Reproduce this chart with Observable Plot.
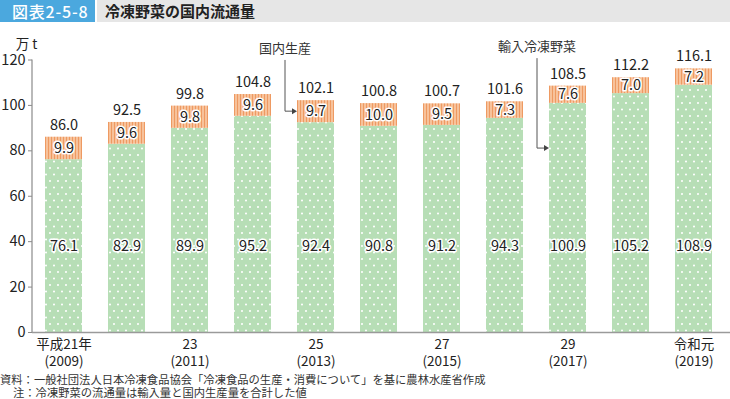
<!DOCTYPE html>
<html><head><meta charset="utf-8">
<script src="https://cdn.jsdelivr.net/npm/d3@7"></script>
<script src="https://cdn.jsdelivr.net/npm/@observablehq/plot@0.6"></script>
<style>
body{margin:0;background:#fff;font-family:"Noto Sans CJK JP","Noto Sans",sans-serif;}
#wrap{width:730px;height:399px;position:relative;overflow:hidden;}
#header{height:22px;display:flex;overflow:hidden}
#hnum{width:95px;height:22px;background:#4ba8de;color:#fff;font-size:16px;line-height:22px;padding-left:12px;box-sizing:border-box;font-weight:500;white-space:nowrap;letter-spacing:0.8px}
#htitle{flex:1;height:22px;margin-left:2px;background:#e6e6e6;font-size:15px;font-weight:bold;line-height:22px;padding-left:8px;color:#222;white-space:nowrap}
#chart svg{display:block}
#caption{font-size:11.3px;line-height:13px;color:#333;white-space:nowrap;padding-top:1px}
</style></head><body>
<svg width="0" height="0" style="position:absolute"><defs>
<pattern id="dots" width="8" height="13" patternUnits="userSpaceOnUse"><rect width="8" height="13" fill="#b7deb6"/><circle cx="2" cy="3" r="1.05" fill="#fff"/><circle cx="6" cy="9.5" r="1.05" fill="#fff"/></pattern>
<pattern id="stripes" width="3" height="4" patternUnits="userSpaceOnUse"><rect width="3" height="4" fill="#f7c29b"/><rect x="0" width="1" height="4" fill="#ee9a62"/></pattern>
</defs></svg>
<div id="wrap">
<div id="header"><div id="hnum">図表2-5-8</div><div id="htitle">冷凍野菜の国内流通量</div></div>
<div id="chart"></div>
<div id="caption"><div>資料：一般社団法人日本冷凍食品協会「冷凍食品の生産・消費について」を基に農林水産省作成</div><div style="padding-left:13px">注：冷凍野菜の流通量は輸入量と国内生産量を合計した値</div></div>
</div>
<script>
const years = ["2009","2010","2011","2012","2013","2014","2015","2016","2017","2018","2019"];
const imports = [76.1, 82.9, 89.9, 95.2, 92.4, 90.8, 91.2, 94.3, 100.9, 105.2, 108.9];
const domestic = [9.9, 9.6, 9.8, 9.6, 9.7, 10.0, 9.5, 7.3, 7.6, 7.0, 7.2];
const totals = [86.0, 92.5, 99.8, 104.8, 102.1, 100.8, 100.7, 101.6, 108.5, 112.2, 116.1];
const tickYears = ["2009","2011","2013","2015","2017","2019"];
const tickLabels = ["平成21年\n(2009)","23\n(2011)","25\n(2013)","27\n(2015)","29\n(2017)","令和元\n(2019)"];
const yTicks = [0, 20, 40, 60, 80, 100, 120];
const importLabelY = 38;
const notes = [
  {key: "2013", text: "国内生産", yText: 125.5, yTop: 119.8, yArrow: 92.4 + 9.7 / 2},
  {key: "2017", text: "輸入冷凍野菜", yText: 126.3, yTop: 120.6, yArrow: 81}
];

const rows = years.map((year, i) => ({year, imports: imports[i], domestic: domestic[i], total: totals[i], top: imports[i] + domestic[i]}));
const ink = "#222";

function yAxisLine(index, scales, values, dims) {
  return d3.create("svg:line")
    .attr("x1", dims.marginLeft).attr("x2", dims.marginLeft)
    .attr("y1", scales.y(0)).attr("y2", scales.y(120))
    .attr("stroke", "#8a8a8a").attr("stroke-width", 1.2).node();
}

function annotations(index, scales) {
  const g = d3.create("svg:g");
  for (const n of notes) {
    const left = scales.x(n.key);
    const lx = left - 12;
    const ya = scales.y(n.yArrow);
    g.append("text").attr("x", lx).attr("y", scales.y(n.yText))
      .attr("text-anchor", "middle").attr("dominant-baseline", "central")
      .attr("font-size", 13).attr("fill", "#333").text(n.text);
    g.append("path").attr("d", `M${lx},${scales.y(n.yTop)}V${ya}H${left - 4}`)
      .attr("fill", "none").attr("stroke", "#555").attr("stroke-width", 1);
    g.append("path").attr("d", `M${left},${ya}l-5,-3v6z`).attr("fill", "#444");
  }
  return g.node();
}

const plot = Plot.plot({
  width: 730, height: 350,
  marginLeft: 32, marginRight: 0, marginTop: 37.5, marginBottom: 40,
  style: {fontFamily: '"Noto Sans CJK JP","Noto Sans",sans-serif', background: "white"},
  x: {domain: years, paddingInner: 0.405, paddingOuter: 0.242, align: 0.434, axis: null},
  y: {domain: [0, 120], axis: null},
  marks: [
    Plot.barY(rows, {x: "year", y1: 0, y2: "imports", fill: "url(#dots)"}),
    Plot.barY(rows, {x: "year", y1: "imports", y2: "top", fill: "url(#stripes)"}),
    Plot.axisY({ticks: yTicks, tickSize: 4, tickPadding: 3, fontSize: 14.5, label: null, stroke: "#8a8a8a", color: ink}),
    yAxisLine,
    Plot.ruleY([0], {stroke: "#9a9a9a", strokeWidth: 1.5}),
    Plot.text(rows, {x: "year", y: "top", text: d => d.total.toFixed(1), dy: -12, fontSize: 14.5, fill: ink}),
    Plot.text(rows, {x: "year", y: d => d.imports + d.domestic / 2, text: d => d.domestic.toFixed(1), fontSize: 14.5, fill: ink, stroke: "white", strokeWidth: 3}),
    Plot.text(rows, {x: "year", y: () => importLabelY, text: d => d.imports.toFixed(1), fontSize: 14.5, fill: ink, stroke: "white", strokeWidth: 3}),
    Plot.text(tickYears, {x: d => d, y: () => 0, text: (d, i) => tickLabels[i], lineAnchor: "top", dy: 5, fontSize: 13.5, lineHeight: 1.22, fill: ink}),
    Plot.text(["万 t"], {frameAnchor: "top-left", dx: -6, dy: -21, textAnchor: "middle", fontSize: 13.5, fill: ink}),
    annotations
  ]
});
document.getElementById("chart").appendChild(plot);
</script>
</body></html>
